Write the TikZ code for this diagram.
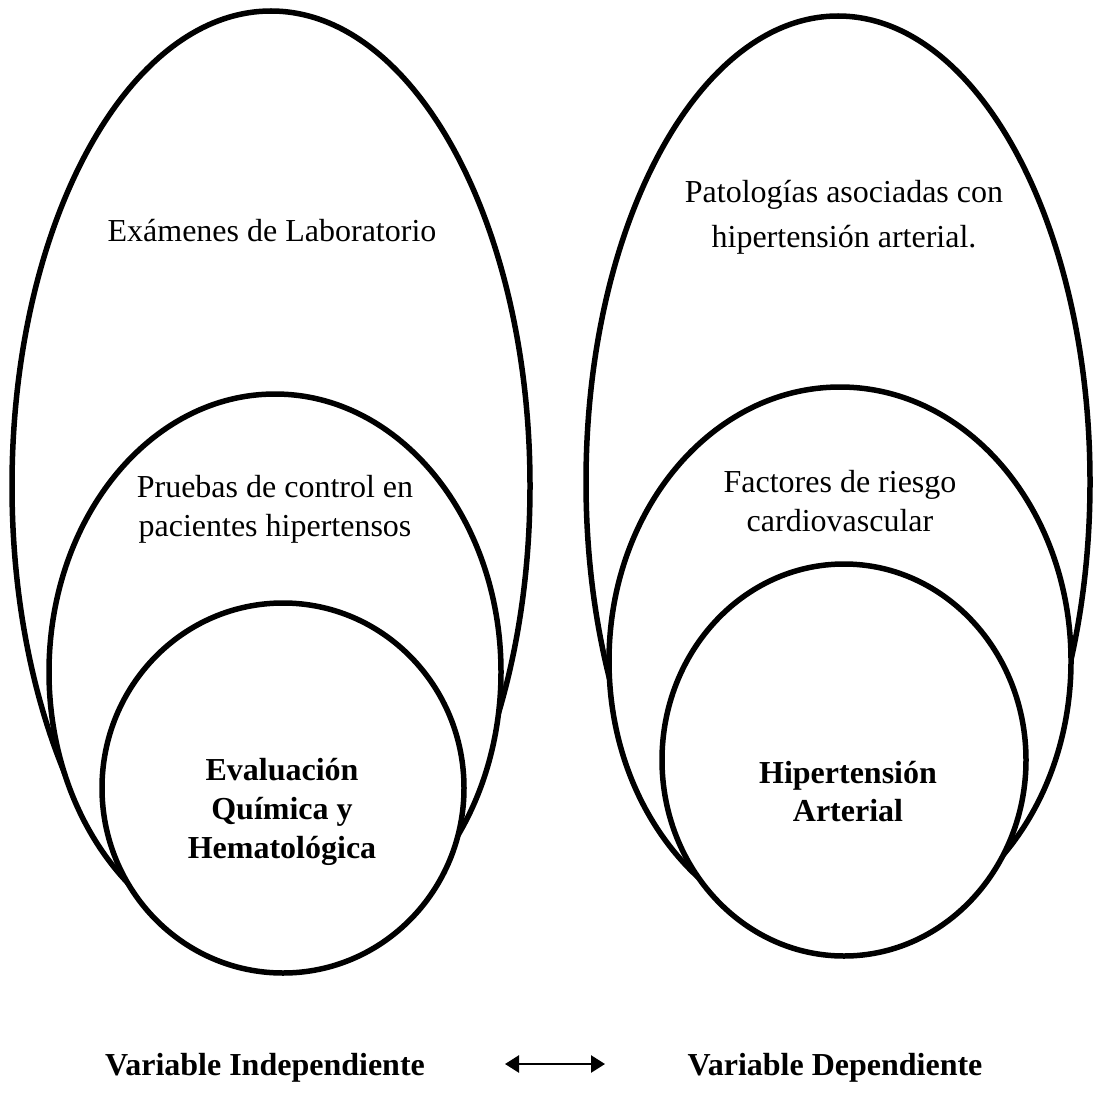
\documentclass[tikz,border=0pt]{standalone}
\usepackage{fontspec}
\setmainfont{Liberation Serif}
\usetikzlibrary{arrows.meta}
\begin{document}
\begin{tikzpicture}[x=1pt,y=-1pt,
  oval/.style={draw=black,fill=white,line width=5.5pt},
  lbl/.style={anchor=base,font=\fontsize{32}{39}\selectfont,inner sep=0pt},
  blbl/.style={anchor=base,font=\fontsize{32}{39}\selectfont\bfseries,inner sep=0pt},
  link/.style={line width=2.5pt,{Triangle[length=14pt,width=17pt]}-{Triangle[length=14pt,width=17pt]}}]
\useasboundingbox (0,0) rectangle (1095,1110);
% left group
\draw[oval] (271,486) ellipse [x radius=259, y radius=475];
\draw[oval] (275,672) ellipse [x radius=226, y radius=278];
\draw[oval] (283,788) ellipse [x radius=181, y radius=185];
% right group
\draw[oval] (838,482) ellipse [x radius=252, y radius=466];
\draw[oval] (840,661) ellipse [x radius=231, y radius=274];
\draw[oval] (844,760) ellipse [x radius=182, y radius=196];
% texts
\node[lbl] (t1) at (272,241) {Exámenes de Laboratorio};
\node[lbl] (t2a) at (275,497) {Pruebas de control en};
\node[lbl] (t2b) at (275,536) {pacientes hipertensos};
\node[blbl] (t3a) at (282,780) {Evaluación};
\node[blbl] (t3b) at (282,819) {Química y};
\node[blbl] (t3c) at (282,858) {Hematológica};
\node[lbl] (t4a) at (844,203) {Patologías asociadas con};
\node[lbl] (t4b) at (844,247) {hipertensión arterial.};
\node[lbl] (t5a) at (840,492) {Factores de riesgo};
\node[lbl] (t5b) at (840,531) {cardiovascular};
\node[blbl] (t6a) at (848,783) {Hipertensión};
\node[blbl] (t6b) at (848,821) {Arterial};
\node[blbl] (vi) at (265,1075) {Variable Independiente};
\node[blbl] (vd) at (835,1075) {Variable Dependiente};
\coordinate (al) at (505,1064);
\coordinate (ar) at (605,1064);
\draw[link] (al) -- (ar);
\end{tikzpicture}
\end{document}
